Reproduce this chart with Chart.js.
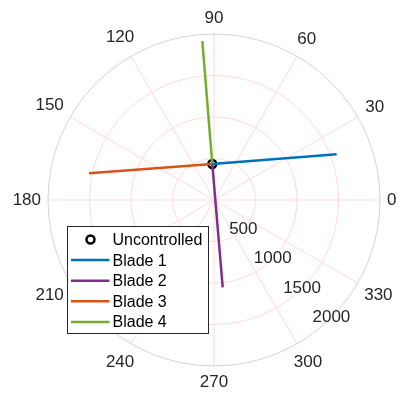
<!DOCTYPE html>
<html>
<head>
<meta charset="utf-8">
<script src="https://cdn.jsdelivr.net/npm/chart.js@4.4.1/dist/chart.umd.min.js"></script>
<style>
  html, body { margin: 0; padding: 0; background: #fff; }
  #wrap { width: 402px; height: 399px; }
</style>
</head>
<body>
<div id="wrap"><canvas id="polar" width="402" height="399"></canvas></div>
<script>
// polar data, angles in degrees, radius in plot units
const uncontrolledTheta = [92.7];
const uncontrolledR = [434];

const bladeLabels = ['Blade 1', 'Blade 2', 'Blade 3', 'Blade 4'];
const bladeTheta = [20.5, 275.7, 167.9, 94.2];
const bladeR = [1578, 1057, 1540, 1921];
const bladeColors = ['#0072BD', '#7E2F8E', '#D95319', '#77AC30'];

const angleTicks = [0, 30, 60, 90, 120, 150, 180, 210, 240, 270, 300, 330];
const radialTicks = [500, 1000, 1500, 2000];
const R_MAX = 2000;
const RTICK_ANGLE = 315;

const FONT = '"Liberation Sans", Arial, Helvetica, sans-serif';
const TEXT = '#262626';
const GRID = 'rgb(255,217,217)';
const EDGE = 'rgb(220,208,208)';

const toXY = (theta, r) => {
  const a = theta * Math.PI / 180;
  return { x: r * Math.cos(a), y: r * Math.sin(a) };
};

const origin = toXY(uncontrolledTheta[0], uncontrolledR[0]);

const datasets = [{
  label: 'Uncontrolled',
  data: [origin],
  showLine: false,
  pointStyle: 'circle',
  pointRadius: 4,
  pointBorderWidth: 2.5,
  borderColor: '#000',
  backgroundColor: 'rgba(0,0,0,0)',
  order: 1
}];
bladeLabels.forEach((lab, i) => {
  datasets.push({
    label: lab,
    data: [origin, toXY(bladeTheta[i], bladeR[i])],
    showLine: true,
    borderColor: bladeColors[i],
    backgroundColor: bladeColors[i],
    borderWidth: 2.5,
    pointRadius: 0,
    order: 0
  });
});

// polar grid + labels, drawn under the data
const polarGrid = {
  id: 'polarGrid',
  beforeDatasetsDraw(c) {
    const { ctx, scales: { x, y } } = c;
    const cx = x.getPixelForValue(0), cy = y.getPixelForValue(0);
    const rad = v => x.getPixelForValue(v) - cx;
    const R = rad(R_MAX);
    ctx.save();
    ctx.lineWidth = 1;
    ctx.strokeStyle = GRID;
    angleTicks.forEach(t => {
      const a = t * Math.PI / 180;
      ctx.beginPath();
      ctx.moveTo(cx, cy);
      ctx.lineTo(cx + R * Math.cos(a), cy - R * Math.sin(a));
      ctx.stroke();
    });
    radialTicks.forEach(v => {
      ctx.strokeStyle = v === R_MAX ? EDGE : GRID;
      ctx.beginPath();
      ctx.arc(cx, cy, rad(v), 0, Math.PI * 2);
      ctx.stroke();
    });

    ctx.fillStyle = TEXT;
    ctx.font = '17px ' + FONT;
    ctx.textAlign = 'center';
    ctx.textBaseline = 'middle';
    angleTicks.forEach(t => {
      const a = t * Math.PI / 180;
      const s = String(t);
      const w = ctx.measureText(s).width;
      const pad = 7 + Math.abs(Math.cos(a)) * w / 2 + Math.abs(Math.sin(a)) * 9;
      ctx.fillText(s, cx + (R + pad) * Math.cos(a), cy - (R + pad) * Math.sin(a));
    });
    const ra = RTICK_ANGLE * Math.PI / 180;
    radialTicks.forEach(v => {
      const r = rad(v);
      ctx.fillText(String(v), cx + r * Math.cos(ra), cy - r * Math.sin(ra));
    });
    ctx.restore();
  }
};

// boxed legend at lower left, like the original figure
const boxLegend = {
  id: 'boxLegend',
  afterDatasetsDraw(c) {
    const { ctx } = c;
    const box = { left: 67.5, top: 226.5, right: 208.5, bottom: 333.5 };
    const rowY0 = 239.5, rowStep = 20.6;
    ctx.save();
    ctx.fillStyle = '#fff';
    ctx.fillRect(box.left, box.top, box.right - box.left, box.bottom - box.top);
    ctx.strokeStyle = '#262626';
    ctx.lineWidth = 1;
    ctx.strokeRect(box.left, box.top, box.right - box.left, box.bottom - box.top);
    ctx.font = '16px ' + FONT;
    ctx.textAlign = 'left';
    ctx.textBaseline = 'middle';
    c.data.datasets.forEach((ds, i) => {
      const yy = rowY0 + i * rowStep;
      if (ds.showLine) {
        ctx.strokeStyle = ds.borderColor;
        ctx.lineWidth = 2.5;
        ctx.beginPath();
        ctx.moveTo(71, yy);
        ctx.lineTo(109.5, yy);
        ctx.stroke();
      } else {
        ctx.strokeStyle = ds.borderColor;
        ctx.lineWidth = 2.5;
        ctx.beginPath();
        ctx.arc(90.5, yy, 4, 0, Math.PI * 2);
        ctx.stroke();
      }
      ctx.fillStyle = '#000';
      ctx.fillText(ds.label, 112.5, yy + 1);
    });
    ctx.restore();
  }
};

new Chart(document.getElementById('polar'), {
  type: 'scatter',
  data: { datasets },
  options: {
    responsive: false,
    animation: false,
    devicePixelRatio: 1,
    layout: { padding: { left: 48, right: 22, top: 34, bottom: 33 } },
    plugins: { legend: { display: false }, tooltip: { enabled: false } },
    scales: {
      x: { type: 'linear', min: -R_MAX, max: R_MAX, display: false },
      y: { type: 'linear', min: -R_MAX, max: R_MAX, display: false }
    }
  },
  plugins: [polarGrid, boxLegend]
});
</script>
</body>
</html>
